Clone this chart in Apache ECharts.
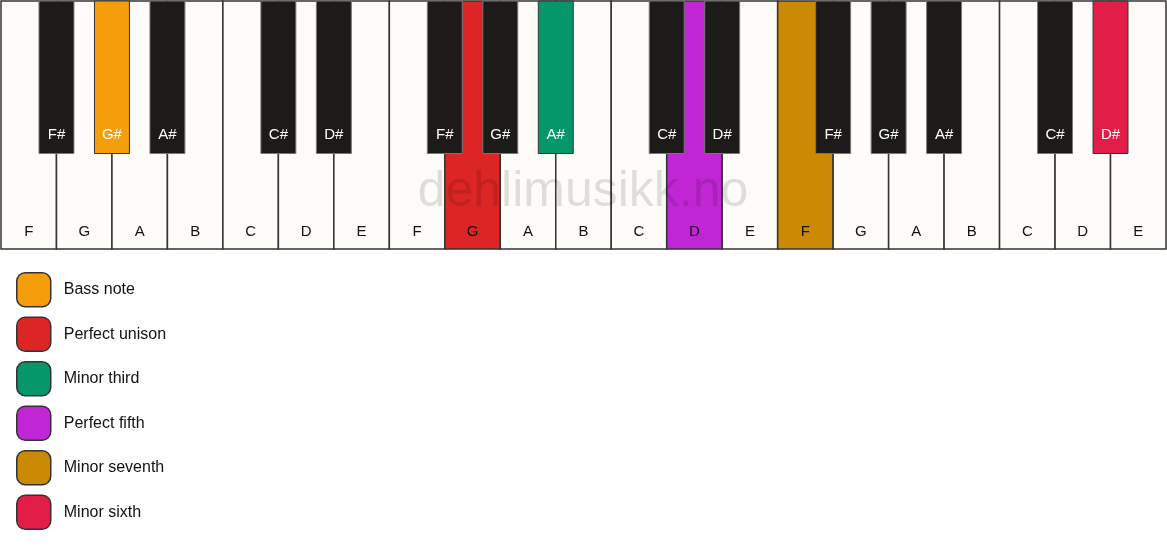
<!DOCTYPE html>
<html>
<head>
<meta charset="utf-8">
<script src="https://cdn.jsdelivr.net/npm/echarts@6/dist/echarts.min.js"></script>
<style>
  html, body { margin: 0; padding: 0; background: #fff; }
  #main { width: 1167px; height: 550px; }
</style>
</head>
<body>
<div id="main"></div>
<script>
// white keys, left to right (three octaves starting on F)
var whiteNotes = ['F', 'G', 'A', 'B', 'C', 'D', 'E',
                  'F', 'G', 'A', 'B', 'C', 'D', 'E',
                  'F', 'G', 'A', 'B', 'C', 'D', 'E'];
// black keys and the white-key boundary each one sits on
var blackNotes = ['F#', 'G#', 'A#', 'C#', 'D#',
                  'F#', 'G#', 'A#', 'C#', 'D#',
                  'F#', 'G#', 'A#', 'C#', 'D#'];
var blackSlots = [1, 2, 3, 5, 6, 8, 9, 10, 12, 13, 15, 16, 17, 19, 20];

var intervalNames = ['Bass note', 'Perfect unison', 'Minor third', 'Perfect fifth', 'Minor seventh', 'Minor sixth'];
var intervalColors = ['#f59e0b', '#dc2626', '#059669', '#c026d3', '#ca8a04', '#e11d48'];

// marked keys: white key index / black key slot -> interval index
var markedWhite = [8, 12, 14];
var markedWhiteInterval = [1, 3, 4];
var markedBlack = [2, 10, 20];
var markedBlackInterval = [0, 2, 5];

var blackKeyWidth = 0.63;   // in white-key units
var blackKeyBottom = 0.385; // share of keyboard height from the bottom

var fontFamily = '"Liberation Sans", Arial, sans-serif';

var whiteData = whiteNotes.map(function (n, i) {
  var k = markedWhite.indexOf(i);
  return [i, k < 0 ? -1 : markedWhiteInterval[k], n];
});
var blackData = blackNotes.map(function (n, i) {
  var k = markedBlack.indexOf(blackSlots[i]);
  return [blackSlots[i], k < 0 ? -1 : markedBlackInterval[k], n];
});

function renderWhite(params, api) {
  var i = api.value(0);
  var c = api.value(1);
  var p0 = api.coord([i, 1]);
  var p1 = api.coord([i + 1, 0]);
  return {
    type: 'group',
    children: [{
      type: 'rect',
      shape: { x: p0[0], y: p0[1], width: p1[0] - p0[0], height: p1[1] - p0[1] },
      style: { fill: c < 0 ? '#fdfcf8' : intervalColors[c], stroke: '#333', lineWidth: 1.5 }
    }, {
      type: 'text',
      style: {
        text: whiteData[params.dataIndex][2],
        x: (p0[0] + p1[0]) / 2, y: p1[1] - 17,
        align: 'center', verticalAlign: 'middle',
        fontSize: 15, fontFamily: fontFamily, fill: '#111'
      }
    }]
  };
}

function renderBlack(params, api) {
  var s = api.value(0);
  var c = api.value(1);
  var p0 = api.coord([s - blackKeyWidth / 2, 1]);
  var p1 = api.coord([s + blackKeyWidth / 2, blackKeyBottom]);
  return {
    type: 'group',
    children: [{
      type: 'rect',
      shape: { x: p0[0], y: p0[1], width: p1[0] - p0[0], height: p1[1] - p0[1] },
      style: {
        fill: c < 0 ? '#1c1b19' : intervalColors[c],
        stroke: c < 0 ? '#777' : '#333', lineWidth: 1
      }
    }, {
      type: 'text',
      style: {
        text: blackData[params.dataIndex][2],
        x: (p0[0] + p1[0]) / 2, y: p1[1] - 19,
        align: 'center', verticalAlign: 'middle',
        fontSize: 15, fontFamily: fontFamily, fill: '#fff'
      }
    }]
  };
}

var chart = echarts.init(document.getElementById('main'), null, { renderer: 'canvas' });

var series = [{
  name: 'white',
  type: 'custom',
  renderItem: renderWhite,
  data: whiteData,
  z: 1,
  silent: true
}, {
  name: 'black',
  type: 'custom',
  renderItem: renderBlack,
  data: blackData,
  z: 2,
  silent: true
}];
intervalNames.forEach(function (n, i) {
  series.push({
    name: n,
    type: 'custom',
    renderItem: function () { return null; },
    itemStyle: { color: intervalColors[i] },
    data: []
  });
});

chart.setOption({
  animation: false,
  backgroundColor: '#fff',
  grid: { left: 1, right: 1, top: 1, height: 248 },
  xAxis: { type: 'value', min: 0, max: 21, show: false },
  yAxis: { type: 'value', min: 0, max: 1, show: false },
  legend: {
    orient: 'vertical',
    left: 16,
    top: 272,
    padding: 0,
    itemWidth: 34,
    itemHeight: 34,
    itemGap: 9,
    selectedMode: false,
    icon: 'roundRect',
    textStyle: { fontSize: 16, color: '#111', fontFamily: fontFamily, padding: [0, 0, 0, 8] },
    data: intervalNames.map(function (n, i) {
      return {
        name: n,
        itemStyle: { color: intervalColors[i], borderColor: '#333', borderWidth: 1.5 }
      };
    })
  },
  graphic: [{
    type: 'text',
    x: 583,
    y: 192,
    z: 100,
    silent: true,
    style: {
      text: 'dehlimusikk.no',
      fontSize: 50,
      fontFamily: fontFamily,
      fill: 'rgba(0,0,0,0.12)',
      align: 'center',
      verticalAlign: 'middle'
    }
  }],
  series: series
});
</script>
</body>
</html>
